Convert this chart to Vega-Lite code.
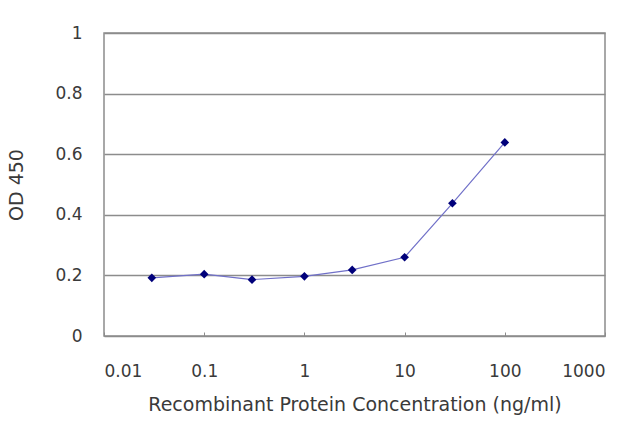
{
  "$schema": "https://vega.github.io/schema/vega-lite/v6.json",
  "width": 501,
  "height": 303,
  "autosize": {"type": "none"},
  "padding": {"left": 104, "top": 33, "right": 35, "bottom": 91},
  "background": "white",
  "config": {
    "font": "DejaVu Sans",
    "view": {"stroke": "#8c8c8c", "strokeWidth": 1.5},
    "axis": {
      "labelFont": "DejaVu Sans",
      "titleFont": "DejaVu Sans",
      "labelColor": "#3a3a3a",
      "titleColor": "#3a3a3a",
      "labelFontSize": 17,
      "titleFontSize": 19,
      "titleFontWeight": "normal",
      "domain": false
    }
  },
  "data": {
    "values": [
      {"conc": 0.03, "od": 0.192},
      {"conc": 0.1, "od": 0.204},
      {"conc": 0.3, "od": 0.186},
      {"conc": 1, "od": 0.197},
      {"conc": 3, "od": 0.218},
      {"conc": 10, "od": 0.26},
      {"conc": 30, "od": 0.438},
      {"conc": 100, "od": 0.639}
    ]
  },
  "encoding": {
    "x": {
      "field": "conc",
      "type": "quantitative",
      "scale": {"type": "log", "domain": [0.01, 1000], "nice": false},
      "axis": {
        "title": "Recombinant Protein Concentration (ng/ml)",
        "values": [0.01, 0.1, 1, 10, 100, 1000],
        "format": "~g",
        "grid": false,
        "ticks": true,
        "tickSize": -4,
        "tickColor": "#8c8c8c",
        "labelPadding": 31,
        "titlePadding": 16
      }
    },
    "y": {
      "field": "od",
      "type": "quantitative",
      "scale": {"domain": [0, 1], "nice": false},
      "axis": {
        "title": "OD 450",
        "values": [0, 0.2, 0.4, 0.6, 0.8, 1],
        "format": "~g",
        "grid": true,
        "gridColor": "#8c8c8c",
        "gridWidth": 1.5,
        "ticks": false,
        "labelPadding": 22,
        "titlePadding": 28
      }
    }
  },
  "layer": [
    {
      "mark": {"type": "line", "color": "#7070c8", "strokeWidth": 1.2}
    },
    {
      "mark": {"type": "point", "shape": "diamond", "filled": true, "color": "#00007a", "size": 75, "opacity": 1}
    }
  ]
}
